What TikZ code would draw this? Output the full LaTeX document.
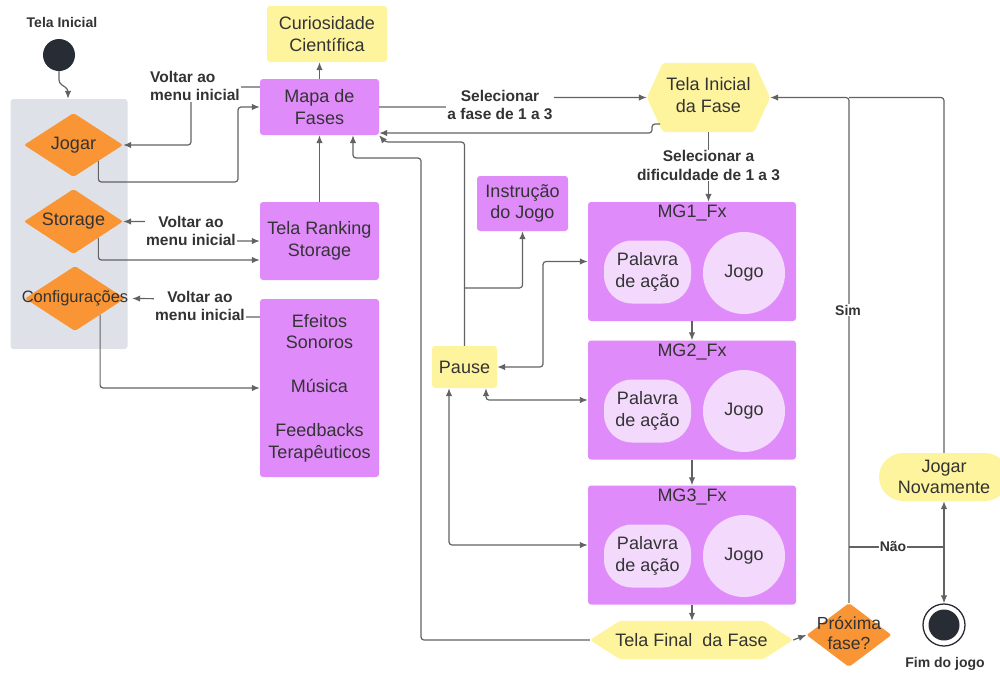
\documentclass[tikz,border=0pt]{standalone}
\usepackage{fontspec}
\setmainfont{Liberation Sans}
\usetikzlibrary{arrows.meta,shapes.geometric,backgrounds}
\definecolor{purp}{RGB}{224,139,250}
\definecolor{lpurp}{RGB}{243,218,253}
\definecolor{yel}{RGB}{255,244,158}
\definecolor{orng}{RGB}{249,149,52}
\definecolor{pnl}{RGB}{222,225,231}
\definecolor{drk}{RGB}{40,44,52}
\definecolor{lnc}{RGB}{98,98,98}
\definecolor{txc}{RGB}{51,51,51}
\begin{document}
\begin{tikzpicture}[x=1pt,y=-1pt,
  every node/.style={text=txc, inner sep=0pt},
  reg/.style={font=\fontsize{18}{21.5}\selectfont, align=center},
  lbl/.style={font=\bfseries\fontsize{15.5}{18.5}\selectfont, align=center, fill=white, inner sep=1pt},
  slbl/.style={font=\bfseries\fontsize{14}{17}\selectfont, fill=white, inner sep=1pt},
  pbox/.style={reg, fill=purp, rounded corners=3pt},
  ybox/.style={reg, fill=yel, rounded corners=3pt},
  dia/.style={reg, diamond, fill=orng, rounded corners=2pt},
  conn/.style={draw=lnc, line width=1.2pt, rounded corners=3pt},
  arr/.style={conn, -{Latex[length=8pt,width=6.5pt]}},
  darr/.style={conn, {Latex[length=8pt,width=6.5pt]}-{Latex[length=8pt,width=6.5pt]}},
]
\useasboundingbox (0,0) rectangle (1000,675);

% left panel
\node[fill=pnl, rounded corners=3pt, minimum width=117pt, minimum height=250pt] (panel) at (69,224) {};
\node[font=\bfseries\fontsize{14}{17}\selectfont] (tit) at (62,22) {Tela Inicial};
\node[circle, fill=drk, minimum size=32pt] (start) at (59,55) {};
\node[dia, minimum width=99pt, minimum height=64pt] (jogar) at (73.5,145) {\makebox[0pt]{Jogar}};
\node[dia, minimum width=99pt, minimum height=65pt] (stor) at (73.5,221.5) {\makebox[0pt]{Storage}};
\node[dia, minimum width=100pt, minimum height=65pt, font=\fontsize{16.5}{20}\selectfont] (cfg) at (75,298.5) {\makebox[0pt]{Configurações}};

% middle column
\node[ybox, minimum width=120pt, minimum height=56pt] (curio) at (327,34) {Curiosidade\\Científica};
\node[pbox, minimum width=119pt, minimum height=56pt] (mapa) at (319.5,107) {Mapa de\\Fases};
\node[pbox, minimum width=119pt, minimum height=78pt] (rank) at (319.5,241) {Tela Ranking\\Storage};
\node[pbox, minimum width=119pt, minimum height=178pt] (sett) at (319.5,388) {Efeitos\\Sonoros\\[22.5pt]Música\\[22.5pt]Feedbacks\\Terapêuticos};
\node[pbox, minimum width=91pt, minimum height=55pt] (instr) at (522.5,203.5) {Instrução\\do Jogo};
\node[ybox, minimum width=65pt, minimum height=42pt] (pause) at (464.5,367) {Pause};

% mini games
\node[pbox, minimum width=208pt, minimum height=119pt] (mg1) at (692,261.5) {};
\node[reg] (mg1t) at (692,213) {MG1\_Fx};
\node[reg, fill=lpurp, rounded corners=28pt, minimum width=87pt, minimum height=63pt] (mg1p) at (647.5,272) {Palavra\\de ação};
\node[reg, circle, fill=lpurp, minimum size=82pt] (mg1j) at (744,273) {Jogo};

\node[pbox, minimum width=208pt, minimum height=119pt] (mg2) at (692,400) {};
\node[reg] (mg2t) at (692,352) {MG2\_Fx};
\node[reg, fill=lpurp, rounded corners=28pt, minimum width=87pt, minimum height=63pt] (mg2p) at (647.5,411) {Palavra\\de ação};
\node[reg, circle, fill=lpurp, minimum size=82pt] (mg2j) at (744,411) {Jogo};

\node[pbox, minimum width=208pt, minimum height=119pt] (mg3) at (692,545) {};
\node[reg] (mg3t) at (692,497) {MG3\_Fx};
\node[reg, fill=lpurp, rounded corners=28pt, minimum width=87pt, minimum height=63pt] (mg3p) at (647.5,556) {Palavra\\de ação};
\node[reg, circle, fill=lpurp, minimum size=82pt] (mg3j) at (744,556) {Jogo};

% hexagons
\node[minimum width=123pt, minimum height=69pt] (telaini) at (708.5,97.5) {};
\node[reg] (telainit) at (708.5,95) {Tela Inicial\\da Fase};
\node[reg, minimum width=203pt, minimum height=38pt] (telafin) at (691.5,640) {Tela Final\ \ da Fase};
\begin{scope}[on background layer]
\fill[yel, rounded corners=3pt] (telaini.west) -- ([xshift=16pt]telaini.north west) -- ([xshift=-16pt]telaini.north east) -- (telaini.east) -- ([xshift=-16pt]telaini.south east) -- ([xshift=16pt]telaini.south west) -- cycle;
\fill[yel, rounded corners=3pt] (telafin.west) -- ([xshift=30pt]telafin.north west) -- ([xshift=-30pt]telafin.north east) -- (telafin.east) -- ([xshift=-30pt]telafin.south east) -- ([xshift=30pt]telafin.south west) -- cycle;
\end{scope}

% right side
\node[dia, minimum width=85pt, minimum height=64pt] (prox) at (849,635) {};
\node[reg, font=\fontsize{17.5}{20}\selectfont] (proxt) at (849,633) {Próxima\\fase?};
\node[ybox, rounded corners=24pt, minimum width=130pt, minimum height=48pt] (jn) at (944,477) {Jogar\\Novamente};
\node[circle, draw=drk, line width=1.3pt, minimum size=42pt, fill=white] (fim) at (944,625) {};
\node[circle, fill=drk, minimum size=31pt] (fimin) at (fim) {};
\node[font=\bfseries\fontsize{14}{17}\selectfont] (fimt) at (945,664) {Fim do jogo};

% connectors - left
\draw[arr] (start.south) -- (59,83) -- (68,89) -- (68,0 |- panel.north);
\draw[arr] (mapa.west |- 0,87) -- (191,87) -- (191,145) -- (jogar.east);
\node[lbl, align=left] (v1) at (195,86) {Voltar ao\\menu inicial};
\draw[arr] (jogar.south east) -- (jogar.south east |- 0,182) -- (238,182) -- (238,107) -- (mapa.west);
\draw[darr] (stor.east) -- (191,0 |- stor.east) -- (191,241) -- (rank.west |- 0,241);
\node[lbl] (v2) at (191,231) {Voltar ao\\menu inicial};
\draw[arr] (stor.south east) -- (stor.south east |- 0,260) -- (rank.west |- 0,260);
\draw[arr] (sett.west |- 0,317) -- (200,317) -- (200,299) -- ([xshift=7pt]cfg.east);
\node[lbl] (v3) at (200,306) {Voltar ao\\menu inicial};
\draw[arr] (cfg.south east) -- (cfg.south east |- 0,388) -- (sett.west);
\draw[arr] (rank.north) -- (mapa.south);
\draw[arr] (mapa.north) -- (mapa.north |- curio.south);

% connectors - middle
\draw[arr] (mapa.east) -- (500,107) -- (500,0 |- telaini.west) -- (telaini.west);
\node[lbl] (sel) at (500,105) {Selecionar\\a fase de 1 a 3};
\coordinate (tiout) at (660,124);
\draw[arr] (tiout) -- (652,124) -- (652,133) -- (mapa.east |- 0,133);
\draw[arr] (pause.north) -- (pause.north |- 0,142) -- (385,142) -- (mapa.south east);
\draw[arr] (telafin.west) -- (421,0 |- telafin.west) -- (421,158) -- (353,158) -- (353,0 |- mapa.south);
\draw[arr] (pause.north |- 0,288) -- (instr.south |- 0,288) -- (instr.south);
\draw[darr] (pause.east) -- (543,0 |- pause.east) -- (543,0 |- mg1.west) -- (mg1.west);
\draw[darr] (486,0 |- pause.south) -- (486,0 |- mg2.west) -- (mg2.west);
\draw[darr] (449,0 |- pause.south) -- (449,0 |- mg3.west) -- (mg3.west);
\draw[arr] (telaini.south) -- (telaini.south |- mg1.north);
\node[lbl] (dif) at (708.5,165.5) {Selecionar a\\dificuldade de 1 a 3};
\draw[arr] (mg1.south) -- (mg2.north);
\draw[arr] (mg2.south) -- (mg3.north);
\draw[arr] (mg3.south) -- (mg3.south |- telafin.north);
\draw[arr] (telafin.east) -- (prox.west);

% connectors - right
\draw[arr] (prox.north) -- (prox.north |- telaini.east) -- (telaini.east);
\node[slbl] (sim) at (848,310) {Sim};
\draw[conn] (jn.north) -- (jn.north |- telaini.east) -- (prox.north |- telaini.east);
\coordinate (nao) at (944,547);
\draw[conn] (prox.north |- nao) -- (nao);
\node[slbl] (naot) at (893,547) {Não};
\draw[arr] (nao) -- (jn.south);
\draw[arr] (nao) -- (fim.north);
\end{tikzpicture}
\end{document}
